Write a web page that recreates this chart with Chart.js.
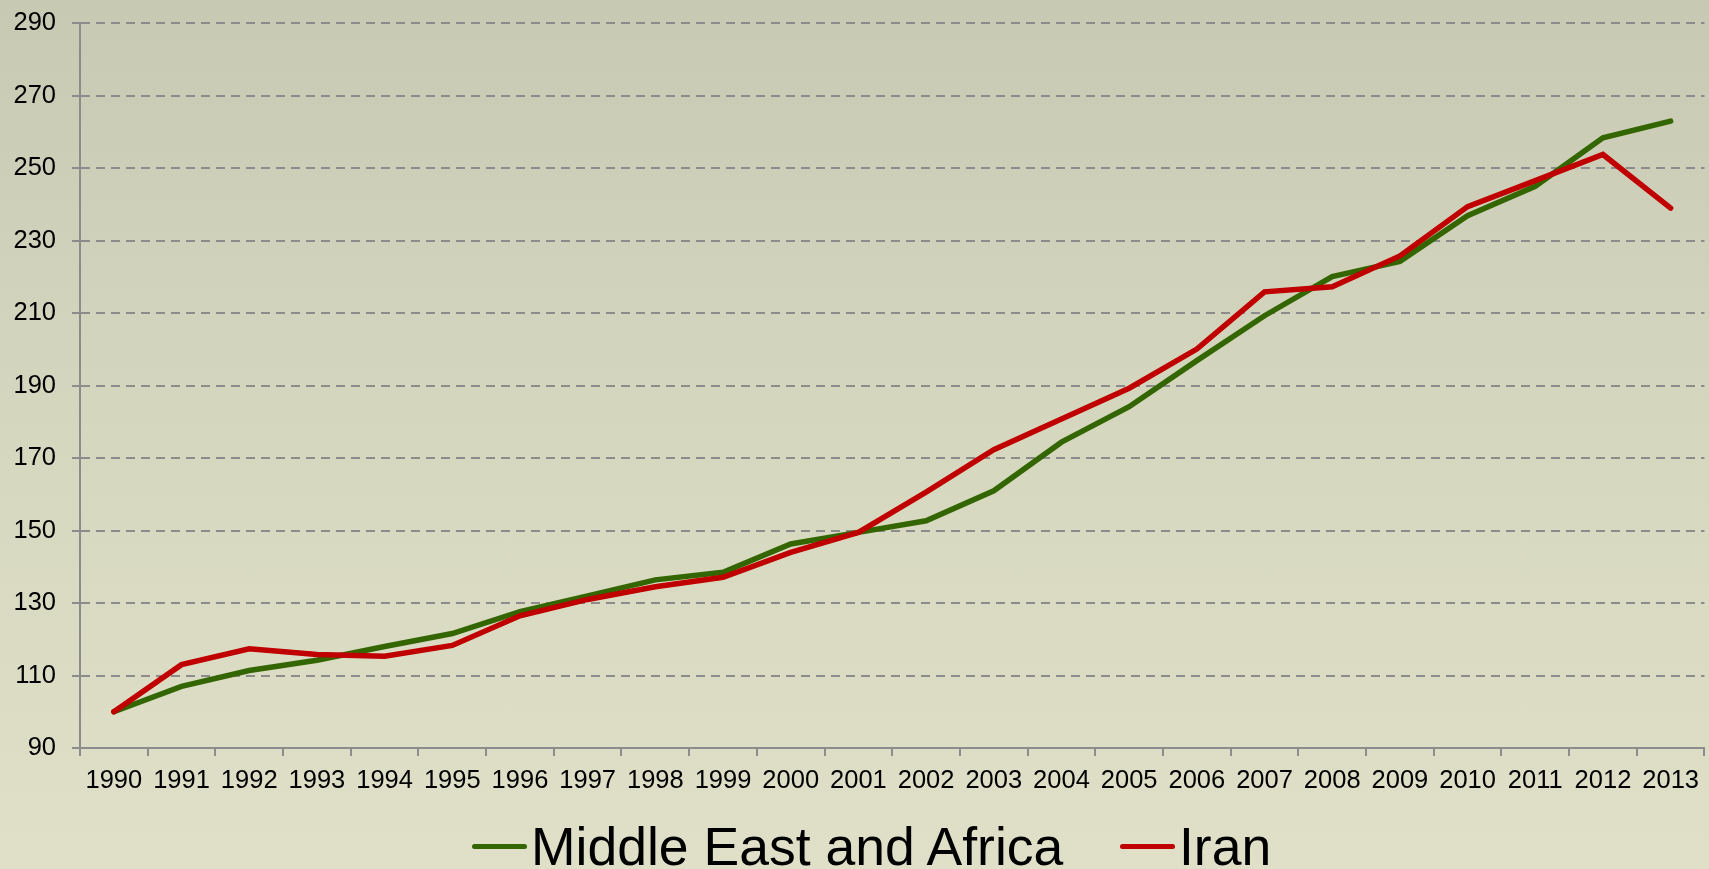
<!DOCTYPE html>
<html lang="en">
<head>
  <meta charset="UTF-8" />
  <title>Middle East and Africa vs Iran (1990 = 100)</title>
  <script src="https://cdn.jsdelivr.net/npm/chart.js"></script>
  <style>
    html, body {
      margin: 0;
      padding: 0;
    }
    body {
      width: 1709px;
      height: 869px;
      overflow: hidden;
      background: linear-gradient(to bottom, #c8c9b3 0%, #d6d7bf 50%, #e0e0c9 100%);
      font-family: "Liberation Sans", Arial, sans-serif;
    }
    .wrap {
      position: relative;
      width: 1709px;
      height: 869px;
    }
    .legend-item {
      position: absolute;
      top: 820px;
      font-size: 53.5px;
      line-height: 53px;
      color: #000;
      white-space: nowrap;
    }
    .legend-item .mark {
      display: inline-block;
      width: 55px;
      height: 5px;
      border-radius: 3px;
      vertical-align: 16px;
      margin-right: 4px;
    }
  </style>
</head>
<body>
  <div class="wrap">
    <canvas id="chart"></canvas>
    <div class="legend-item" style="left: 472px;"><span class="mark" style="background:#336600"></span>Middle East and Africa</div>
    <div class="legend-item" style="left: 1120px;"><span class="mark" style="background:#c00000"></span>Iran</div>
  </div>

  <script>
    // index values, 1990 = 100
    const years = ['1990', '1991', '1992', '1993', '1994', '1995', '1996', '1997', '1998', '1999', '2000', '2001',
                   '2002', '2003', '2004', '2005', '2006', '2007', '2008', '2009', '2010', '2011', '2012', '2013'];
    const middleEastAfrica = [100, 107, 111.4, 114.2, 118, 121.6, 127.6, 132, 136.4, 138.5, 146.3, 149.5,
                              152.7, 161, 174.4, 184.2, 196.9, 209.3, 220.1, 224.3, 236.9, 245, 258.4, 263];
    const iran = [100, 113, 117.4, 115.8, 115.3, 118.3, 126.5, 131, 134.5, 137.1, 144, 149.5,
                  160.6, 172.3, 180.8, 189.3, 200.1, 215.9, 217.3, 225.8, 239.4, 246.6, 253.8, 239];
    const yMin = 90, yMax = 290, yStep = 20;

    const axisGrey = '#8c8c8c';
    const tickFont = { family: '"Liberation Sans", Arial, sans-serif', size: 25.5 };

    const canvas = document.getElementById('chart');
    canvas.width = 1709;
    canvas.height = 869;

    new Chart(canvas, {
      type: 'line',
      data: {
        labels: years,
        datasets: [
          {
            label: 'Middle East and Africa',
            data: middleEastAfrica,
            borderColor: '#336600',
            borderWidth: 5.5,
            pointRadius: 0,
            tension: 0,
            fill: false,
            borderCapStyle: 'round',
            order: 1
          },
          {
            label: 'Iran',
            data: iran,
            borderColor: '#c00000',
            borderWidth: 5.5,
            pointRadius: 0,
            tension: 0,
            fill: false,
            borderCapStyle: 'round',
            order: 0
          }
        ]
      },
      options: {
        responsive: false,
        animation: false,
        layout: {
          padding: { top: 23.3, left: 0, right: 0, bottom: 75 }
        },
        plugins: {
          legend: { display: false },
          title: { display: false },
          tooltip: { enabled: false }
        },
        scales: {
          x: {
            offset: true,
            afterFit: (scale) => { scale.height = 46; },
            grid: {
              offset: true,
              drawOnChartArea: false,
              drawTicks: true,
              tickLength: 8,
              color: axisGrey,
              lineWidth: 2
            },
            border: { display: true, color: axisGrey, width: 2 },
            ticks: {
              color: '#000',
              font: tickFont,
              padding: 10,
              maxRotation: 0,
              autoSkip: false
            }
          },
          y: {
            min: yMin,
            max: yMax,
            afterFit: (scale) => {
              scale.width = 80;
              scale.paddingTop = 0;
              scale.paddingBottom = 0;
            },
            grid: {
              color: axisGrey,
              lineWidth: 2,
              tickLength: 8
            },
            border: { display: true, color: axisGrey, width: 2, dash: [9, 6] },
            ticks: {
              stepSize: yStep,
              color: '#000',
              font: tickFont,
              padding: 16
            }
          }
        }
      }
    });
  </script>
</body>
</html>
